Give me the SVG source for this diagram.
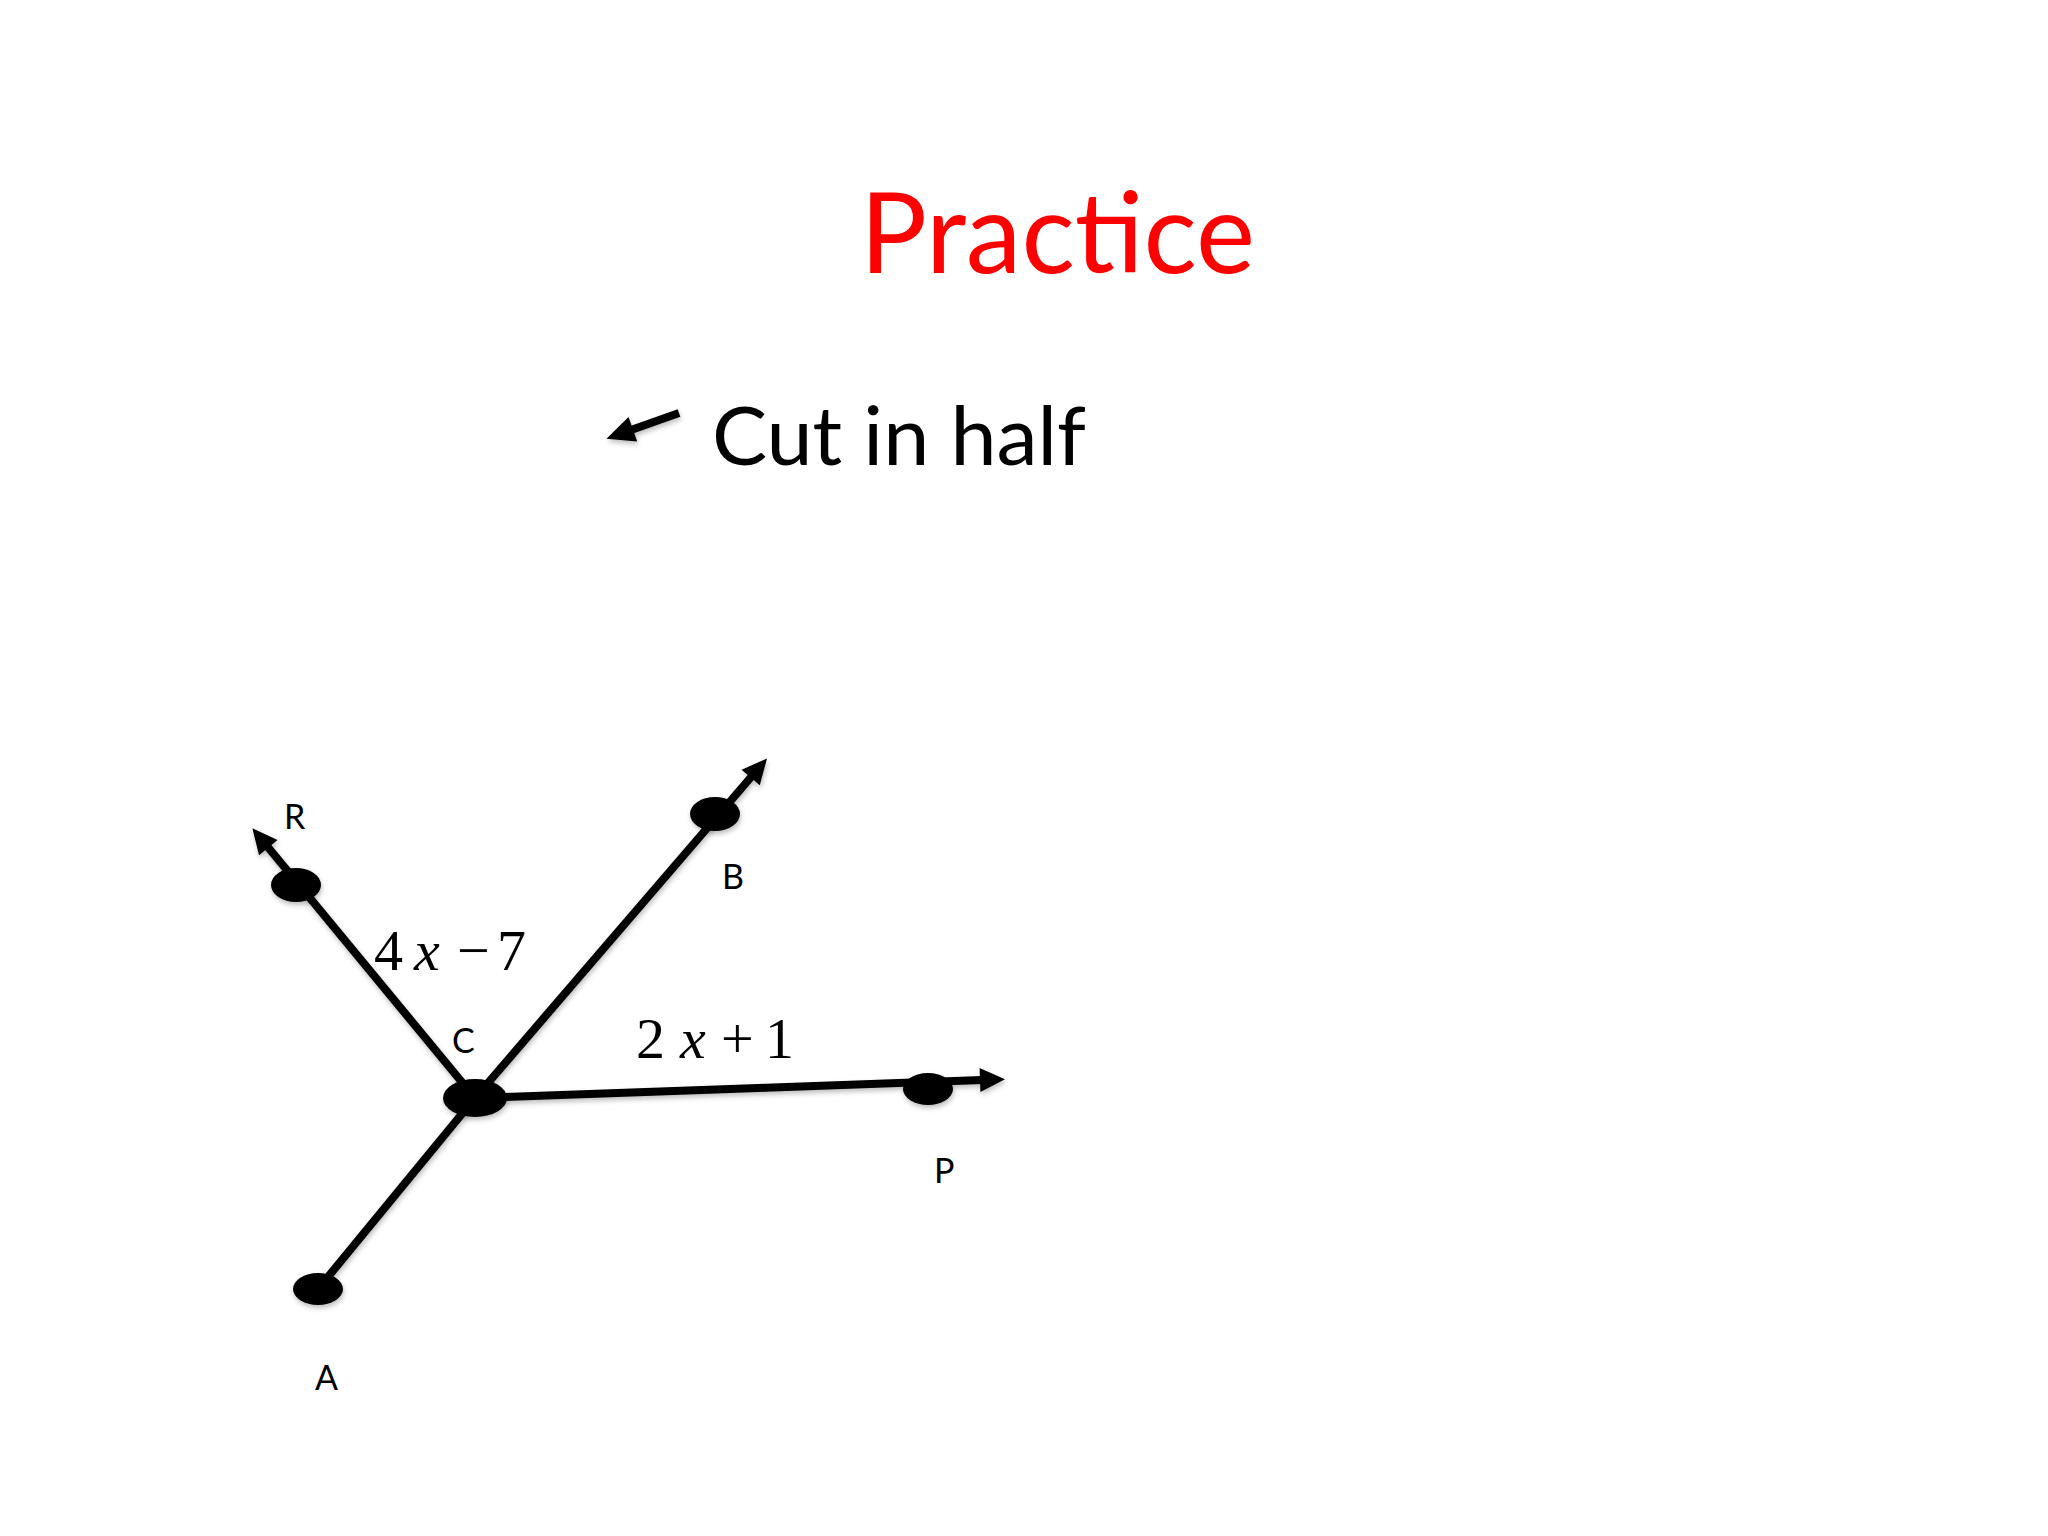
<svg xmlns="http://www.w3.org/2000/svg" width="2048" height="1536" viewBox="0 0 2048 1536">
  <style>
    .title { font-family: Lato, "Open Sans", sans-serif; font-size: 112px; fill: #ff0000; }
    .body { font-family: Lato, "Open Sans", sans-serif; font-size: 82px; fill: #000; }
    .lbl { font-family: Lato, "Open Sans", sans-serif; font-size: 34px; fill: #000; }
    .math { font-family: "Liberation Serif", "DejaVu Serif", serif; font-size: 58px; fill: #000; }
    .mi { font-style: italic; }
    .ray { stroke: #000; stroke-width: 8; fill: none; stroke-linecap: butt; }
    .pt { fill: #000; }
  </style>
  <defs>
    <filter id="sh" filterUnits="userSpaceOnUse" x="0" y="0" width="2048" height="1536">
      <feDropShadow dx="1" dy="3" stdDeviation="2.5" flood-color="#000" flood-opacity="0.25"/>
    </filter>
    <marker id="ah" markerUnits="userSpaceOnUse" markerWidth="30" markerHeight="30" refX="2" refY="12" orient="auto" overflow="visible">
      <path d="M0,0 L25,12 L0,24 Z" fill="#000"/>
    </marker>
    <marker id="ah2" markerUnits="userSpaceOnUse" markerWidth="32" markerHeight="32" refX="2" refY="13" orient="auto" overflow="visible">
      <path d="M0,0 L28,13 L0,26 Z" fill="#000"/>
    </marker>
  </defs>
  <rect width="2048" height="1536" fill="#fff"/>

  <text class="title" x="860" y="273" textLength="395" lengthAdjust="spacingAndGlyphs">Practice</text>

  <g id="cut-arrow" filter="url(#sh)">
    <line class="ray" x1="679" y1="413" x2="631" y2="430" marker-end="url(#ah2)"/>
  </g>
  <text class="body" x="712" y="465" textLength="374" lengthAdjust="spacingAndGlyphs">Cut in half</text>

  <g id="connectors" filter="url(#sh)">
    <line class="ray" x1="475" y1="1098" x2="267" y2="846" marker-end="url(#ah)"/>
    <line class="ray" x1="475" y1="1098" x2="752" y2="776" marker-end="url(#ah)"/>
    <line class="ray" x1="475" y1="1098" x2="982" y2="1080" marker-end="url(#ah)"/>
    <line class="ray" x1="475" y1="1098" x2="318" y2="1289"/>
  </g>

  <g id="node-R" filter="url(#sh)">
    <ellipse class="pt" cx="296" cy="885" rx="25" ry="17"/>
  </g>
  <text class="lbl" x="284" y="829">R</text>

  <g id="node-B" filter="url(#sh)">
    <ellipse class="pt" cx="715" cy="814" rx="25" ry="17"/>
  </g>
  <text class="lbl" x="722" y="889">B</text>

  <g id="node-C" filter="url(#sh)">
    <ellipse class="pt" cx="475" cy="1098" rx="32" ry="19"/>
  </g>
  <text class="lbl" x="452" y="1053">C</text>

  <g id="node-P" filter="url(#sh)">
    <ellipse class="pt" cx="928" cy="1089" rx="25" ry="16"/>
  </g>
  <text class="lbl" x="934" y="1183">P</text>

  <g id="node-A" filter="url(#sh)">
    <ellipse class="pt" cx="318" cy="1289" rx="25" ry="16"/>
  </g>
  <text class="lbl" x="315" y="1390">A</text>

  <text class="math" y="970"><tspan x="374">4</tspan><tspan class="mi" x="414">x</tspan><tspan x="457">−</tspan><tspan x="497">7</tspan></text>
  <text class="math" y="1058"><tspan x="636">2</tspan><tspan class="mi" x="680">x</tspan><tspan x="721">+</tspan><tspan x="765">1</tspan></text>
</svg>
